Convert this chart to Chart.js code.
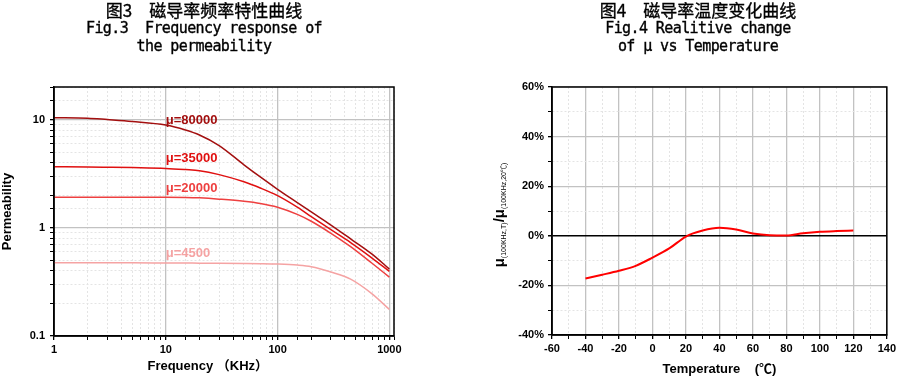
<!DOCTYPE html>
<html lang="zh">
<head>
<meta charset="UTF-8">
<title>磁导率特性曲线</title>
<script src="https://cdn.jsdelivr.net/npm/chart.js"></script>
<style>
    html, body { margin: 0; padding: 0; background: #fff; }
    body { width: 899px; height: 377px; position: relative; overflow: hidden; }
    .box { position: absolute; top: 0; height: 377px; }
    #leftBox { left: 0; width: 420px; }
    #rightBox { left: 470px; width: 429px; }
    .ttl { position: absolute; top: 1px; text-align: center; color: #000; -webkit-text-stroke: 0.35px #000; }
    .ttl div { white-space: pre; height: 18px; }
    .ttl .cn { font-family: 'Noto Sans CJK SC', sans-serif; font-size: 17px; line-height: 18px; }
    .ttl .en { font-family: 'DejaVu Sans Mono', monospace; font-size: 15px; letter-spacing: -0.6px; line-height: 18px; }
    #ttlLeft { left: 54px; width: 300px; }
    #ttlRight { left: 548px; width: 300px; }
</style>
</head>
<body>
<div class="box" id="leftBox"><canvas id="freqChart"></canvas></div>
<div class="box" id="rightBox"><canvas id="tempChart"></canvas></div>

<div class="ttl" id="ttlLeft"><div class="cn">图3　磁导率频率特性曲线</div><div class="en">Fig.3  Frequency response of</div><div class="en">the permeability</div></div>
<div class="ttl" id="ttlRight"><div class="cn">图4　磁导率温度变化曲线</div><div class="en">Fig.4 Realitive change</div><div class="en">of μ vs Temperature</div></div>

<script>
// ---- 图3 频率特性 ----
const freqKHz = [1, 2, 3, 5, 10, 15, 20, 30, 50, 70, 100, 150, 200, 300, 450, 700, 1000];
const mu80000 = [10.4, 10.3, 10.0, 9.6, 8.9, 8.0, 7.2, 5.75, 3.82, 2.95, 2.27, 1.71, 1.40, 1.06, 0.79, 0.57, 0.415];
const mu35000 = [3.66, 3.65, 3.63, 3.6, 3.54, 3.45, 3.37, 3.1, 2.66, 2.33, 1.98, 1.55, 1.27, 0.96, 0.73, 0.525, 0.395];
const mu20000 = [1.92, 1.92, 1.92, 1.92, 1.92, 1.91, 1.89, 1.84, 1.76, 1.68, 1.55, 1.33, 1.15, 0.89, 0.67, 0.47, 0.35];
const mu4500  = [0.475, 0.475, 0.475, 0.475, 0.473, 0.472, 0.471, 0.47, 0.468, 0.466, 0.462, 0.452, 0.437, 0.39, 0.335, 0.245, 0.176];
const muNames = ['μ=80000', 'μ=35000', 'μ=20000', 'μ=4500'];
const muLabelY = [9.8, 4.4, 2.29, 0.577];   // label value, drawn at 10 KHz
const freqLabelAt = 10;

// ---- 图4 温度特性 ----
const tempC = [-40, -30, -20, -10, 0, 10, 20, 30, 40, 50, 60, 70, 80, 90, 100, 110, 120];
const muChange = [-17.2, -15.7, -14.1, -12.1, -8.8, -5.1, -0.3, 2.1, 3.2, 2.5, 0.9, 0.2, 0.1, 1.0, 1.6, 1.9, 2.1];

const tickFont = { family: "'Liberation Sans', Arial, sans-serif", size: 11, weight: 'bold' };
const titleFont = { family: "'Liberation Sans', Arial, 'Noto Sans CJK SC', sans-serif", size: 13, weight: 'bold' };

function isDecade(v) {
    const l = Math.log10(v);
    return Math.abs(l - Math.round(l)) < 1e-6;
}

// 外框
const frameBox = {
    id: 'frameBox',
    afterDraw(chart) {
        const a = chart.chartArea, c = chart.ctx;
        c.save();
        c.strokeStyle = '#000';
        c.lineWidth = 1.5;
        c.strokeRect(a.left, a.top, a.right - a.left, a.bottom - a.top);
        c.restore();
    }
};

// μ 标注
const muTags = {
    id: 'muTags',
    afterDatasetsDraw(chart) {
        const c = chart.ctx, xs = chart.scales.x, ys = chart.scales.y;
        c.save();
        c.font = "bold 13px 'Liberation Sans', Arial, sans-serif";
        c.textBaseline = 'middle';
        c.textAlign = 'left';
        muNames.forEach((t, i) => {
            c.fillStyle = chart.data.datasets[i].borderColor;
            c.fillText(t, xs.getPixelForValue(freqLabelAt), ys.getPixelForValue(muLabelY[i]));
        });
        c.restore();
    }
};

const datasetOf = (arr, color) => ({
    data: freqKHz.map((f, i) => ({ x: f, y: arr[i] })),
    borderColor: color,
    borderWidth: 1.5,
    pointRadius: 0,
    cubicInterpolationMode: 'monotone',
    fill: false
});

new Chart(document.getElementById('freqChart'), {
    type: 'line',
    data: {
        datasets: [
            datasetOf(mu80000, '#a30f0f'),
            datasetOf(mu35000, '#e01010'),
            datasetOf(mu20000, '#ee4040'),
            datasetOf(mu4500, '#f5a3a3')
        ]
    },
    options: {
        responsive: true,
        maintainAspectRatio: false,
        animation: false,
        layout: { padding: { top: 87, right: 26, bottom: 0, left: 0 } },
        plugins: { legend: { display: false }, tooltip: { enabled: false } },
        scales: {
            x: {
                type: 'logarithmic',
                min: 1,
                max: 1100,
                afterFit: s => { s.height = 41; },
                grid: {
                    color: ctx => isDecade(ctx.tick.value) ? '#c2c2c2' : '#e4e4e4',
                    lineWidth: ctx => isDecade(ctx.tick.value) ? 1.3 : 1,
                    tickColor: '#000',
                    tickLength: 4
                },
                border: { color: '#000', width: 1.5, dash: ctx => (ctx.tick && !isDecade(ctx.tick.value)) ? [2, 2] : [] },
                ticks: {
                    autoSkip: false, maxRotation: 0, color: '#000', font: tickFont, padding: 3,
                    callback: v => isDecade(v) && v <= 1000 ? String(v) : ''
                },
                title: { display: true, text: 'Frequency （KHz）　　　', color: '#000', font: titleFont, padding: { top: 0, bottom: 3 } }
            },
            y: {
                type: 'logarithmic',
                min: 0.1,
                max: 20,
                afterFit: s => { s.width = 54; },
                grid: {
                    color: ctx => isDecade(ctx.tick.value) ? '#c2c2c2' : '#e4e4e4',
                    lineWidth: ctx => isDecade(ctx.tick.value) ? 1.3 : 1,
                    tickColor: '#000',
                    tickLength: 4
                },
                border: { color: '#000', width: 1.5, dash: ctx => (ctx.tick && !isDecade(ctx.tick.value)) ? [2, 2] : [] },
                ticks: {
                    autoSkip: false, color: '#000', font: tickFont, padding: 5,
                    callback: v => isDecade(v) && v <= 10 ? String(v) : ''
                },
                title: { display: true, text: 'Permeability', color: '#000', font: titleFont, padding: { top: 0, bottom: 0 } }
            }
        }
    },
    plugins: [frameBox, muTags]
});

// 纵轴标题 μ(100KHz,T)/μ(100KHz,20℃)
const ratioTitle = {
    id: 'ratioTitle',
    afterDraw(chart) {
        const c = chart.ctx, a = chart.chartArea;
        const big = "bold 15px 'Liberation Sans', Arial, sans-serif";
        const small = "7px 'Liberation Sans', Arial, 'Noto Sans CJK SC', sans-serif";
        const parts = [['μ', big, 0], ['(100KHz,T)', small, 2], ['/', big, 0], ['μ', big, 0], ['(100KHz,20℃)', small, 2]];
        c.save();
        let total = 0;
        parts.forEach(p => { c.font = p[1]; total += c.measureText(p[0]).width; });
        c.translate(34, (a.top + a.bottom) / 2 + 4);
        c.rotate(-Math.PI / 2);
        c.fillStyle = '#000';
        c.textBaseline = 'alphabetic';
        let x = -total / 2;
        parts.forEach(p => {
            c.font = p[1];
            c.fillText(p[0], x, p[2]);
            x += c.measureText(p[0]).width;
        });
        c.restore();
    }
};

new Chart(document.getElementById('tempChart'), {
    type: 'line',
    data: {
        datasets: [{
            data: tempC.map((t, i) => ({ x: t, y: muChange[i] })),
            borderColor: '#ff0000',
            borderWidth: 2,
            pointRadius: 0,
            cubicInterpolationMode: 'monotone',
            fill: false
        }]
    },
    options: {
        responsive: true,
        maintainAspectRatio: false,
        animation: false,
        layout: { padding: { top: 87, right: 11, bottom: 0, left: 0 } },
        plugins: { legend: { display: false }, tooltip: { enabled: false } },
        scales: {
            x: {
                type: 'linear',
                min: -60,
                max: 140,
                afterFit: s => { s.height = 42; },
                grid: {
                    color: ctx => ctx.tick.value % 20 === 0 ? '#c2c2c2' : '#e4e4e4',
                    lineWidth: ctx => ctx.tick.value % 20 === 0 ? 1.3 : 1,
                    tickColor: '#000',
                    tickLength: 4
                },
                border: { color: '#000', width: 1.5, dash: ctx => (ctx.tick && ctx.tick.value % 20 !== 0) ? [2, 2] : [] },
                ticks: {
                    stepSize: 10, autoSkip: false, maxRotation: 0, color: '#000', font: tickFont, padding: 3,
                    callback: v => v % 20 === 0 ? String(v) : ''
                },
                title: { display: true, text: 'Temperature    (℃)', color: '#000', font: titleFont, padding: { top: 0, bottom: 0 } }
            },
            y: {
                type: 'linear',
                min: -40,
                max: 60,
                afterFit: s => { s.width = 82; },
                grid: {
                    color: ctx => ctx.tick.value === 0 ? '#000' : (ctx.tick.value % 20 === 0 ? '#c2c2c2' : '#e4e4e4'),
                    lineWidth: ctx => ctx.tick.value === 0 ? 1.5 : (ctx.tick.value % 20 === 0 ? 1.3 : 1),
                    tickColor: '#000',
                    tickLength: 4
                },
                border: { color: '#000', width: 1.5, dash: ctx => (ctx.tick && ctx.tick.value % 20 !== 0) ? [2, 2] : [] },
                ticks: {
                    stepSize: 10, autoSkip: false, color: '#000', font: tickFont, padding: 4,
                    callback: v => v % 20 === 0 ? v + '%' : ''
                }
            }
        }
    },
    plugins: [frameBox, ratioTitle]
});
</script>
</body>
</html>
